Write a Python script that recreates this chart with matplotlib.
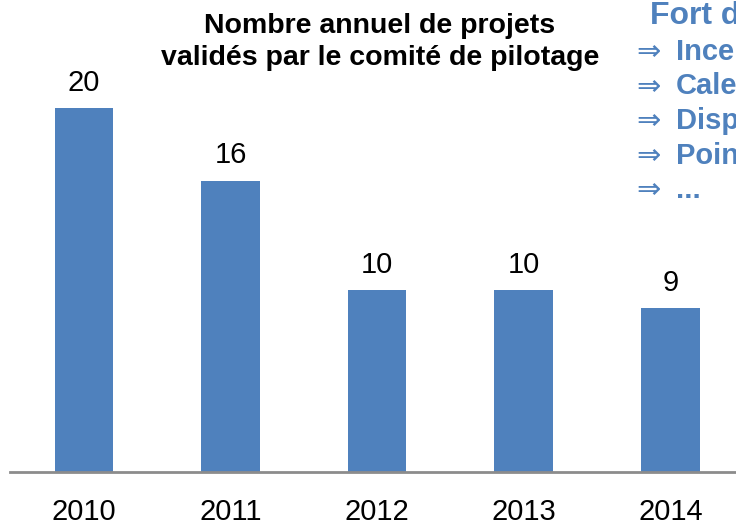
import matplotlib.pyplot as plt

annees = ["2010", "2011", "2012", "2013", "2014"]
projets = [20, 16, 10, 10, 9]
titre = "Nombre annuel de projets\nvalidés par le comité de pilotage"
encart_titre = "Fort de"
encart_lignes = ["Incentives", "Calendrier", "Dispositif", "Points", "..."]

plt.rcParams["font.family"] = ["Liberation Sans", "DejaVu Sans"]
bleu = "#4F81BD"

fig = plt.figure(figsize=(7.36, 5.27), dpi=100)
ax = fig.add_axes([10 / 736, 1 - 472 / 527, 1 - 10 / 736, 455 / 527])

x = range(len(annees))
ax.bar(x, projets, width=0.4, color=bleu)
for xi, v in zip(x, projets):
    ax.text(xi, v + 1.4, str(v), ha="center", va="center", fontsize=21)

ax.set_xlim(-0.505, 4.448)
ax.set_ylim(0, 25)
ax.set_xticks(list(x))
ax.set_xticklabels(annees, fontsize=21)
ax.tick_params(axis="x", length=0, pad=19)
ax.set_yticks([])
for s in ["top", "right", "left"]:
    ax.spines[s].set_visible(False)
ax.spines["bottom"].set_color("#8c8c8c")
ax.spines["bottom"].set_linewidth(2)

fig.text(380 / 736, 1 - 42 / 527, titre, ha="center", va="center",
         fontsize=20.5, fontweight="bold", linespacing=1.28)

fig.text(650 / 736, 1 - 16 / 527, encart_titre, ha="left", va="center",
         fontsize=23, fontweight="bold", color=bleu)
for i, ligne in enumerate(encart_lignes):
    y = 1 - (52 + i * 34.5) / 527
    fig.text(636 / 736, y, "⇒", ha="left", va="center", fontsize=21,
             color=bleu, family="DejaVu Sans")
    fig.text(676 / 736, y, ligne, ha="left", va="center", fontsize=21,
             fontweight="bold", color=bleu)

fig.savefig("out.png", dpi=100)
